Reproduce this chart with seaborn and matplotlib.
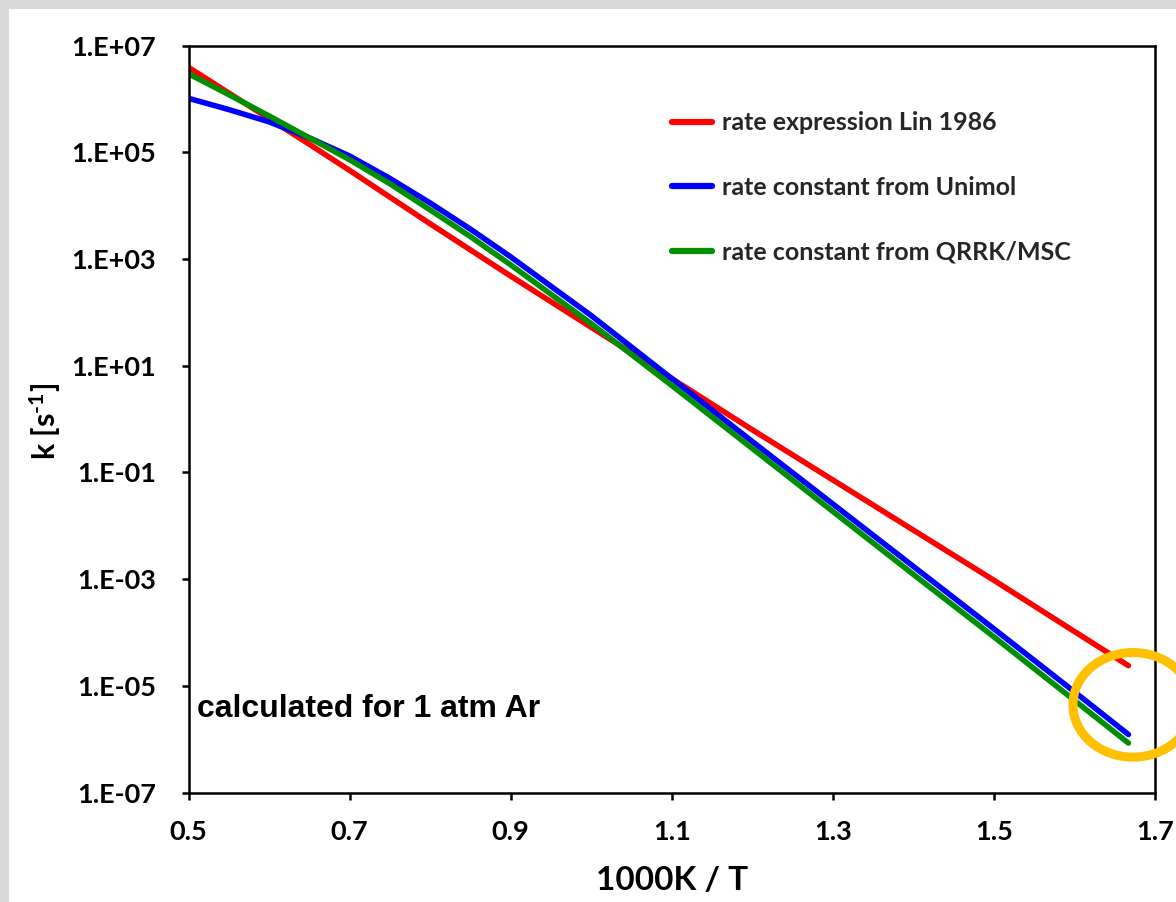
import numpy as np
import pandas as pd
import matplotlib
matplotlib.use("Agg")
import matplotlib.pyplot as plt
from matplotlib.patches import Ellipse, Rectangle
from matplotlib.lines import Line2D
from matplotlib.ticker import FixedLocator, FuncFormatter
import seaborn as sns

# ---- data ----
inv_T = [0.5, 0.55, 0.6, 0.65, 0.7, 0.75, 0.8, 0.85, 0.9, 1.0, 1.1, 1.2, 1.3, 1.4, 1.5, 1.6, 1.667]
log_k_lin1986 = [6.59, 6.11, 5.63, 5.15, 4.66, 4.16, 3.66, 3.17, 2.68, 1.72, 0.76, -0.20, -1.14, -2.08, -3.02, -3.98, -4.62]
log_k_unimol = [6.01, 5.80, 5.57, 5.27, 4.93, 4.51, 4.05, 3.56, 3.04, 1.94, 0.76, -0.42, -1.59, -2.76, -3.93, -5.11, -5.91]
log_k_qrrk = [6.47, 6.08, 5.68, 5.27, 4.86, 4.41, 3.92, 3.42, 2.89, 1.79, 0.63, -0.55, -1.73, -2.91, -4.08, -5.27, -6.07]

series_names = ["rate expression Lin 1986", "rate constant from Unimol", "rate constant from QRRK/MSC"]
series_colors = ["#FF0000", "#0000FF", "#008F00"]
x_ticks = [0.5, 0.7, 0.9, 1.1, 1.3, 1.5, 1.7]
y_ticks = [1e7, 1e5, 1e3, 1e1, 1e-1, 1e-3, 1e-5, 1e-7]

frames = []
for name, vals in zip(series_names, [log_k_lin1986, log_k_unimol, log_k_qrrk]):
    frames.append(pd.DataFrame({"x": inv_T, "k": np.power(10.0, vals), "series": name}))
df = pd.concat(frames, ignore_index=True)

sns.set_theme(style="white")
plt.rcParams["font.family"] = ["Lato", "DejaVu Sans"]
plt.rcParams["font.weight"] = "bold"
plt.rcParams["mathtext.fontset"] = "custom"
plt.rcParams["mathtext.rm"] = "Lato:bold"
plt.rcParams["mathtext.bf"] = "Lato:bold"
plt.rcParams["mathtext.it"] = "Lato:bold"
plt.rcParams["mathtext.default"] = "rm"

W, H = 1176, 902
fig = plt.figure(figsize=(W / 100, H / 100), dpi=100, facecolor="#D9D9D9")
fig.patches.append(Rectangle((9 / W, 0), 1 - 9 / W, 1 - 9 / H, transform=fig.transFigure,
                             facecolor="white", edgecolor="none", zorder=-10))
ax = fig.add_axes([188.5 / W, 1 - 792.7 / H, (1155 - 188.5) / W, (792.7 - 45.5) / H])
ax.set_facecolor("white")

sns.lineplot(data=df, x="x", y="k", hue="series", hue_order=series_names,
             palette=dict(zip(series_names, series_colors)), linewidth=4.0,
             ax=ax, legend=False, sort=False, estimator=None)

ax.set_yscale("log")
ax.set_xlim(0.5, 1.7)
ax.set_ylim(1e-7, 1e7)
ax.xaxis.set_major_locator(FixedLocator(x_ticks))
ax.yaxis.set_major_locator(FixedLocator(y_ticks))
ax.yaxis.set_minor_locator(FixedLocator([]))
ax.xaxis.set_major_formatter(FuncFormatter(lambda v, p: f"{v:.1f}"))
ax.yaxis.set_major_formatter(FuncFormatter(lambda v, p: f"1.E{int(round(np.log10(v))):+03d}"))

for s in ax.spines.values():
    s.set_visible(True)
    s.set_color("black")
    s.set_linewidth(1.8)
ax.tick_params(axis="both", which="major", direction="out", length=5, width=1.8,
               color="black", labelsize=19.5, labelcolor="black")
ax.tick_params(axis="y", pad=18.5, left=True)
ax.tick_params(axis="x", pad=15, bottom=True)
for lab in ax.get_xticklabels() + ax.get_yticklabels():
    lab.set_fontweight("bold")

ax.set_xlabel("1000K / T", fontsize=24, fontweight="bold", color="black")
ax.set_ylabel(r"k [s$^{\text{-1}}$]", fontsize=22, fontweight="bold", color="black")
ax.xaxis.set_label_coords(0.5, (792.7 - 880) / (792.7 - 45.5))
ax.xaxis.label.set_va("center")
ax.yaxis.set_label_coords((45 - 188.5) / (1155 - 188.5), 1 - (421.7 - 45.5) / (792.7 - 45.5))
ax.yaxis.label.set_va("center")

handles = [Line2D([0], [0], color=c, linewidth=4.5, solid_capstyle="round") for c in series_colors]
ax.legend(handles, series_names, loc="upper left", bbox_to_anchor=(0.5, 0.912),
          frameon=False, handlelength=1.6, handletextpad=0.4,
          labelspacing=1.66, borderpad=0, borderaxespad=0,
          prop={"weight": "bold", "size": 18, "family": ["Lato", "DejaVu Sans"]})

ax.text(0.0088, 0.1017, "calculated for 1 atm Ar", transform=ax.transAxes,
        fontsize=23, fontweight="bold", family=["Liberation Sans", "DejaVu Sans"],
        ha="left", va="baseline", color="black")

ax.add_patch(Ellipse((0.9772, 0.1176), 0.1242, 0.1400, transform=ax.transAxes,
                     fill=False, edgecolor="#FFC000", linewidth=6.5, clip_on=False, zorder=5))

fig.savefig("out.png", dpi=100, facecolor=fig.get_facecolor())
